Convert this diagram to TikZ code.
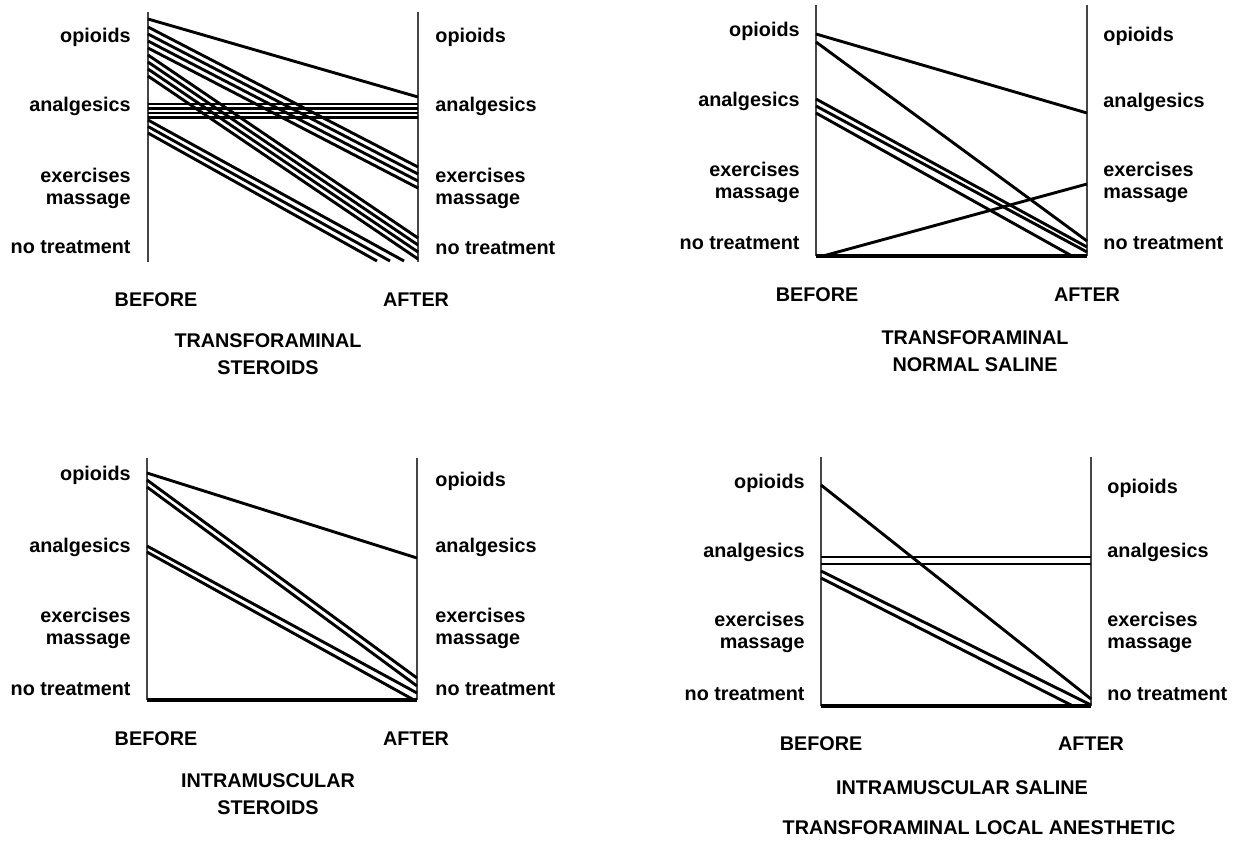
\documentclass[tikz,border=0pt]{standalone}
\usepackage{fontspec}
\setmainfont{Liberation Sans}
\tikzset{
  >=latex,
}
\tikzstyle{axis}=[gray!55!black,line width=0.75pt]
\tikzstyle{move}=[line width=1.45pt]
\tikzstyle{base}=[line width=1.7pt]
\tikzstyle{every node}=[font=\bfseries\fontsize{9.9}{11}\selectfont,inner sep=0pt]
\tikzstyle{title}=[align=center,font=\bfseries\fontsize{9.9}{13.5}\selectfont]

\begin{document}
\begin{tikzpicture}[x=0.5pt,y=-0.5pt]
    \useasboundingbox (0,0) rectangle (1242,842);
    % transforaminal steroids
    \draw[axis] (148,12)--(148,262);
    \draw[axis] (418,12)--(418,262);
    \draw[move] (148,19)--(418,97);
    \foreach \a/\b in {27/167,34/174,41/181,48/188} \draw[move] (148,\a)--(418,\b);
    \foreach \a/\b in {55/238,62/245,69/252,76/259} \draw[move] (148,\a)--(418,\b);
    \foreach \a in {104,108.5,113,117.5} \draw[move] (148,\a)--(418,\a);
    \foreach \a/\b in {120/404,126.5/390,133/377} \draw[move] (148,\a)--(\b,261);
    \foreach \y/\t [count=\i] in {37/opioids,106/analgesics,188/{exercises\\massage},247/no treatment}
      \node[anchor=east,align=right] (a\i) at (131,\y) {\t};
    \foreach \y/\t [count=\i] in {37/opioids,106/analgesics,188/{exercises\\massage},248/no treatment}
      \node[anchor=west,align=left] (b\i) at (435,\y) {\t};
    \node (a-before) at (156,300) {BEFORE};
    \node (a-after) at (416,300) {AFTER};
    \node[title] (a-title) at (268,354.5) {TRANSFORAMINAL\\STEROIDS};
    % transforaminal normal saline
    \draw[axis] (816,5)--(816,256);
    \draw[axis] (1087,5)--(1087,256);
    \draw[base] (816,256)--(1087,256);
    \draw[move] (816,34)--(1087,113);
    \draw[move] (816,42)--(1087,241);
    \foreach \a/\b in {99/247,106/252} \draw[move] (816,\a)--(1087,\b);
    \draw[move] (816,113)--(1072,256);
    \draw[move] (823,256)--(1087,184);
    \foreach \y/\t [count=\i] in {31/opioids,101/analgesics,182/{exercises\\massage},243/no treatment}
      \node[anchor=east,align=right] (c\i) at (800,\y) {\t};
    \foreach \y/\t [count=\i] in {36/opioids,102/analgesics,182/{exercises\\massage},243/no treatment}
      \node[anchor=west,align=left] (d\i) at (1103,\y) {\t};
    \node (b-before) at (817,295) {BEFORE};
    \node (b-after) at (1087,295) {AFTER};
    \node[title] (b-title) at (975,351) {TRANSFORAMINAL\\NORMAL SALINE};
    % intramuscular steroids
    \draw[axis] (147,458)--(147,700);
    \draw[axis] (417,458)--(417,700);
    \draw[base] (147,700)--(417,700);
    \draw[move] (147,473)--(417,558);
    \foreach \a/\b in {480/678,487/686,546/693} \draw[move] (147,\a)--(417,\b);
    \draw[move] (147,552)--(414,700);
    \foreach \y/\t [count=\i] in {475/opioids,547/analgesics,628/{exercises\\massage},689/no treatment}
      \node[anchor=east,align=right] (e\i) at (131,\y) {\t};
    \foreach \y/\t [count=\i] in {481/opioids,547/analgesics,628/{exercises\\massage},689/no treatment}
      \node[anchor=west,align=left] (f\i) at (435,\y) {\t};
    \node (c-before) at (156,739) {BEFORE};
    \node (c-after) at (416,739) {AFTER};
    \node[title] (c-title) at (268,794.5) {INTRAMUSCULAR\\STEROIDS};
    % intramuscular saline / local anesthetic
    \draw[axis] (821,457)--(821,706);
    \draw[axis] (1091,457)--(1091,706);
    \draw[base] (821,706)--(1091,706);
    \draw[move] (821,485)--(1091,699);
    \foreach \a in {557,564} \draw[move] (821,\a)--(1091,\a);
    \draw[move] (821,571)--(1091,705);
    \draw[move] (821,578)--(1073,706);
    \foreach \y/\t [count=\i] in {483/opioids,552/analgesics,632/{exercises\\massage},694/no treatment}
      \node[anchor=east,align=right] (g\i) at (805,\y) {\t};
    \foreach \y/\t [count=\i] in {488/opioids,552/analgesics,632/{exercises\\massage},694/no treatment}
      \node[anchor=west,align=left] (h\i) at (1107,\y) {\t};
    \node (d-before) at (821,744) {BEFORE};
    \node (d-after) at (1091,744) {AFTER};
    \node (d-title) at (962,788) {INTRAMUSCULAR SALINE};
    \node (d-title2) at (979,828) {TRANSFORAMINAL LOCAL ANESTHETIC};
\end{tikzpicture}
\end{document}
